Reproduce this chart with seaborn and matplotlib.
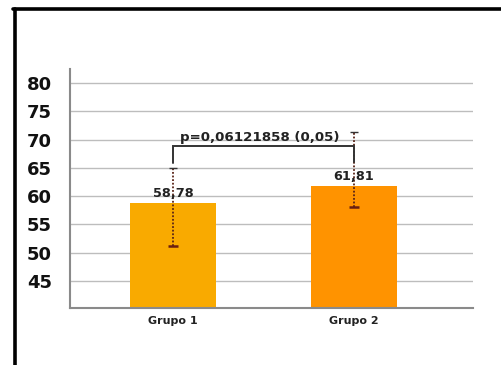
import matplotlib
matplotlib.use("Agg")
import matplotlib.pyplot as plt
import seaborn as sns
import pandas as pd

# Group means, error-bar limits and the comparison result
grupos = ["Grupo 1", "Grupo 2"]
medias = [58.78, 61.81]
lim_inf = [51.2, 58.1]
lim_sup = [65.0, 71.3]
p_texto = "p=0,06121858 (0,05)"
y_ticks = [45, 50, 55, 60, 65, 70, 75, 80]
colores = ["#F9AA00", "#FF9300"]

df = pd.DataFrame({"grupo": grupos, "media": medias})

sns.set_theme(style="white")
plt.rcParams["font.family"] = ["DejaVu Sans"]

fig = plt.figure(figsize=(5.01, 3.65), dpi=100)
ax = fig.add_axes([0.1397, 0.1562, 0.8043, 0.6548])

sns.barplot(data=df, x="grupo", y="media", hue="grupo", palette=colores,
            saturation=1, width=0.475, legend=False, ax=ax, errorbar=None,
            linewidth=0, zorder=2)

# Dotted error bars with small caps
xs = list(range(len(grupos)))
for x, m, lo, hi in zip(xs, medias, lim_inf, lim_sup):
    ax.vlines(x, lo, hi, colors="#5a2418", linestyles=(0, (1, 1)), lw=1.3, zorder=4)
    ax.hlines(lo, x - 0.025, x + 0.025, colors="#6a1e10", lw=1.8, zorder=4)
    ax.hlines(hi, x - 0.02, x + 0.02, colors="#333333", lw=1.0, zorder=4)

# Value labels above each bar
for x, m in zip(xs, medias):
    ax.text(x, m + 0.5, f"{m:.2f}".replace(".", ","), ha="center", va="bottom",
            fontsize=9.3, fontweight="bold", color="#222222", zorder=5)

# Significance bracket between the groups
y_br = 68.9
ax.plot([xs[0], xs[0], xs[1], xs[1]], [65.8, y_br, y_br, 66.0],
        color="#333333", lw=1.4, zorder=5, solid_joinstyle="miter")
ax.text((xs[0] + xs[1]) / 2 - 0.02, y_br + 0.25, p_texto, ha="center", va="bottom",
        fontsize=9.6, fontweight="bold", color="#222222", zorder=5)

ax.set_ylim(40.23, 82.47)
ax.set_xlim(-0.569, 1.657)
ax.set_yticks(y_ticks)
ax.set_yticklabels([str(t) for t in y_ticks], fontsize=13, fontweight="bold", color="#111111")
ax.set_xticks(xs)
ax.set_xticklabels(grupos, fontsize=8, fontweight="bold", color="#222222")
ax.tick_params(axis="y", length=0, pad=13)
ax.tick_params(axis="x", length=0, pad=6)
ax.set_xlabel("")
ax.set_ylabel("")

ax.yaxis.grid(True, color="#bdbdbd", lw=1.0, zorder=0)
ax.xaxis.grid(False)
ax.set_axisbelow(True)
for s in ["top", "right"]:
    ax.spines[s].set_visible(False)
for s in ["left", "bottom"]:
    ax.spines[s].set_color("#8a8a8a")
    ax.spines[s].set_linewidth(1.5)

# Black frame around the figure (top and left edges visible)
fig.add_artist(plt.Line2D([14.5 / 501, 14.5 / 501], [0, 1 - 8.5 / 365],
                          transform=fig.transFigure, color="black", lw=2.6))
fig.add_artist(plt.Line2D([13.2 / 501, 1], [1 - 9 / 365, 1 - 9 / 365],
                          transform=fig.transFigure, color="black", lw=2.6))

fig.savefig("out.png", dpi=100)
